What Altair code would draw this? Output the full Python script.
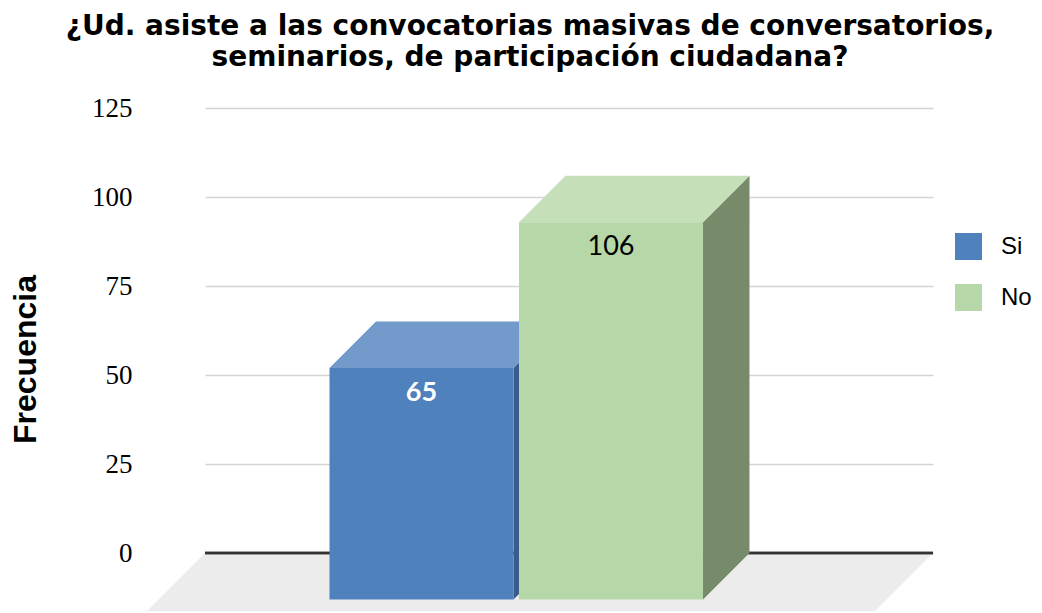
import altair as alt
import pandas as pd

# ---- data ----
categories = ["Si", "No"]
values = [65, 106]
y_ticks = [0, 25, 50, 75, 100, 125]
title_lines = [
    "¿Ud. asiste a las convocatorias masivas de conversatorios,",
    "seminarios, de participación ciudadana?",
]
y_title = "Frecuencia"

# ---- layout / style ----
PLOT_W, PLOT_H = 728, 445
Y_MAX = 125
X_MIN, X_MAX = -1.388, 2.454
HALF_W = 0.4855
DEPTH_PX = 46.5
FLOOR_PX = 58

front_colors = ["#4f81bd", "#b6d7a8"]
top_colors = ["#729acb", "#c5e0b9"]
side_colors = ["#385d8a", "#778b6a"]

unit_px = PLOT_W / (X_MAX - X_MIN)
dx = DEPTH_PX / unit_px
dy = DEPTH_PX * Y_MAX / PLOT_H
fdx = FLOOR_PX / unit_px
fdy = FLOOR_PX * Y_MAX / PLOT_H

base = pd.DataFrame({"cat": categories, "value": values, "i": range(len(categories))})

front = base.assign(
    x0=base.i - HALF_W - dx,
    x1=base.i + HALF_W - dx,
    y0=-dy,
    y1=base.value - dy,
    xc=base.i - dx,
)

top = pd.concat([
    base.assign(y=base.value, xa=base.i - HALF_W, xb=base.i + HALF_W),
    base.assign(y=base.value - dy, xa=base.i - HALF_W - dx, xb=base.i + HALF_W - dx),
])

side = pd.concat([
    base.assign(x=base.i + HALF_W, ylo=0.0, yhi=base.value),
    base.assign(x=base.i + HALF_W - dx, ylo=-dy, yhi=base.value - dy),
])

floor = pd.DataFrame({
    "y": [0.0, -fdy],
    "xa": [X_MIN, X_MIN - fdx],
    "xb": [X_MAX, X_MAX - fdx],
})

xs = alt.Scale(domain=[X_MIN, X_MAX], nice=False, zero=False)
ys = alt.Scale(domain=[0, Y_MAX], nice=False, zero=False)

yaxis = alt.Axis(values=y_ticks, title=y_title, grid=True, gridColor="#d4d4d4",
                 gridWidth=1.5, domain=False, ticks=False,
                 labelFont="Liberation Serif", labelFontSize=27, labelColor="black",
                 labelPadding=73,
                 titleFont="Liberation Sans", titleFontSize=32, titleFontWeight="bold",
                 titleColor="black", titleAngle=270, titleBaseline="alphabetic",
                 titleAlign="center", titleX=-170, titleY=251)

floor_layer = alt.Chart(floor).mark_area(orient="horizontal", color="#ececec").encode(
    y=alt.Y("y:Q", scale=ys, axis=yaxis),
    x=alt.X("xa:Q", scale=xs, axis=None),
    x2="xb:Q",
)

rule_layer = alt.Chart(floor).mark_rule(color="#333333", strokeWidth=2.5).encode(
    y=alt.YDatum(0, scale=ys, axis=yaxis),
)

side_layer = alt.Chart(side).mark_area(orient="vertical").encode(
    x=alt.X("x:Q", scale=xs, axis=None),
    y=alt.Y("ylo:Q", scale=ys, axis=yaxis),
    y2="yhi:Q",
    color=alt.Color("cat:N", scale=alt.Scale(domain=categories, range=side_colors), legend=None),
)

top_layer = alt.Chart(top).mark_area(orient="horizontal").encode(
    y=alt.Y("y:Q", scale=ys, axis=yaxis),
    x=alt.X("xa:Q", scale=xs, axis=None),
    x2="xb:Q",
    color=alt.Color("cat:N", scale=alt.Scale(domain=categories, range=top_colors), legend=None),
)

front_layer = alt.Chart(front).mark_rect().encode(
    x=alt.X("x0:Q", scale=xs, axis=None),
    x2="x1:Q",
    y=alt.Y("y0:Q", scale=ys, axis=yaxis),
    y2="y1:Q",
    color=alt.Color("cat:N", scale=alt.Scale(domain=categories, range=front_colors),
                    legend=alt.Legend(title=None, orient="none", legendX=750, legendY=125,
                                      symbolType="square", symbolSize=729, symbolStrokeWidth=0,
                                      labelFont="Liberation Sans", labelFontSize=24,
                                      labelColor="black", labelOffset=19, rowPadding=24,
                                      padding=0)),
)

text_enc = dict(
    x=alt.X("xc:Q", scale=xs, axis=None),
    y=alt.Y("y1:Q", scale=ys, axis=yaxis),
    text=alt.Text("value:Q"),
)

text_si = alt.Chart(front).transform_filter("datum.cat == 'Si'").mark_text(
    baseline="alphabetic", dy=33, font="Lato", fontSize=27, fontWeight="bold", color="white"
).encode(**text_enc)

text_no = alt.Chart(front).transform_filter("datum.cat == 'No'").mark_text(
    baseline="alphabetic", dy=33, font="Lato", fontSize=27, color="black"
).encode(**text_enc)

chart = alt.layer(
    floor_layer, rule_layer, side_layer, top_layer, front_layer, text_si, text_no
).resolve_scale(color="independent").properties(
    width=PLOT_W,
    height=PLOT_H,
    autosize=alt.AutoSizeParams(type="none"),
    padding={"left": 197, "top": 100, "right": 101, "bottom": 58},
    title=alt.Title(text=title_lines, font="DejaVu Sans", fontSize=28, fontWeight="bold",
                    lineHeight=31, anchor="middle", dx=-39, offset=22, color="black"),
).configure_view(stroke=None)

chart.save("out.html", embed_options={"renderer": "svg", "actions": False})
